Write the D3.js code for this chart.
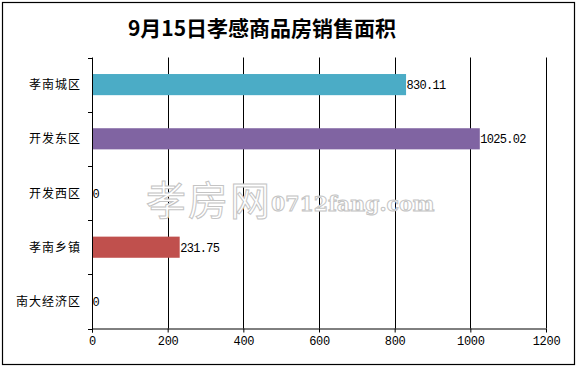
<!DOCTYPE html>
<html><head><meta charset="utf-8">
<script src="https://cdn.jsdelivr.net/npm/d3@7"></script>
<style>body{margin:0;background:#fff}svg{display:block}</style>
</head><body>
<script>
const categories = ["孝南城区","开发东区","开发西区","孝南乡镇","南大经济区"];
const values = [830.11, 1025.02, 0, 231.75, 0];
const valueLabels = ["830.11","1025.02","0","231.75","0"];
const colors = ["#4BACC6","#8064A2","#8064A2","#C0504D","#C0504D"];
const xTicks = [0,200,400,600,800,1000,1200];
const title = "9月15日孝感商品房销售面积";

const W = 576, H = 366;
const svg = d3.select("body").append("svg").attr("width", W).attr("height", H);
svg.append("rect").attr("x",2.5).attr("y",2.5).attr("width",572).attr("height",362)
  .attr("fill","#fff").attr("stroke","#000").attr("stroke-width",1.2);

svg.append("text").attr("x",262).attr("y",36).attr("text-anchor","middle")
  .attr("font-family","'Noto Sans CJK SC'").attr("font-weight","bold").attr("font-size",21)
  .text(title);

const m = {l:92, r:546, t:57.5, b:328.5};
const x = d3.scaleLinear().domain([0,1200]).range([m.l, m.r]);
const y = d3.scaleBand().domain(categories).range([m.t, m.b]).paddingInner(0.61).paddingOuter(0.305);
const yb = d3.scaleBand().domain(categories).range([m.t, m.b]);

// gridlines
svg.append("g").selectAll("line").data(xTicks.slice(1)).join("line")
  .attr("x1",d=>Math.round(x(d))+0.5).attr("x2",d=>Math.round(x(d))+0.5)
  .attr("y1",m.t).attr("y2",m.b).attr("stroke","#000").attr("stroke-width",1);

// watermark
const wm = svg.append("g").attr("fill","#fff").attr("stroke","#c4c4c4").attr("stroke-width",1);
wm.append("text").attr("x",146).attr("y",215).attr("font-family","'Noto Sans CJK SC'")
  .attr("font-size",40).attr("letter-spacing",2).text("孝房网");
wm.append("text").attr("x",271).attr("y",211).attr("font-family","'DejaVu Serif'")
  .attr("font-weight","bold").attr("font-size",20.5).text("0712fang.com");

// bars
svg.append("g").selectAll("rect").data(values).join("rect")
  .attr("x",x(0)).attr("y",(d,i)=>y(categories[i]))
  .attr("width",d=>x(d)-x(0)).attr("height",y.bandwidth())
  .attr("fill",(d,i)=>colors[i]);

// value labels
svg.append("g").selectAll("text").data(values).join("text")
  .attr("x",d=>x(d)+0.5).attr("y",(d,i)=>yb(categories[i])+yb.bandwidth()/2+4.5)
  .attr("font-family","'Liberation Mono', monospace").attr("font-size",12)
  .attr("letter-spacing",-0.7)
  .text((d,i)=>valueLabels[i]);

// x axis
const xa = svg.append("g").attr("transform",`translate(0,${m.b})`)
  .call(d3.axisBottom(x).tickValues(xTicks).tickSize(4).tickPadding(4).tickFormat(d3.format("d")));
xa.select(".domain").attr("stroke","#000").attr("d",`M${m.l},0.5H${m.r}`);
xa.selectAll("text").attr("font-family","'Liberation Mono', monospace").attr("font-size",12).attr("letter-spacing",-0.3).attr("fill","#000");

// y axis
const ya = svg.append("g").attr("transform",`translate(${m.l},0)`);
ya.append("line").attr("x1",0.5).attr("x2",0.5).attr("y1",m.t).attr("y2",m.b+4).attr("stroke","#000");
const bounds = categories.map((c,i)=>yb(c)+yb.bandwidth()).concat([m.t]);
ya.selectAll(".tk").data(bounds).join("line").attr("class","tk")
  .attr("x1",-4).attr("x2",0).attr("y1",d=>Math.round(d)+0.5).attr("y2",d=>Math.round(d)+0.5).attr("stroke","#000");
ya.selectAll(".lb").data(categories).join("text").attr("class","lb")
  .attr("x",-11).attr("y",d=>yb(d)+yb.bandwidth()/2+4.5).attr("text-anchor","end")
  .attr("font-family","'Noto Sans CJK SC'").attr("font-size",12).attr("letter-spacing",1)
  .text(d=>d);
</script>
</body></html>
